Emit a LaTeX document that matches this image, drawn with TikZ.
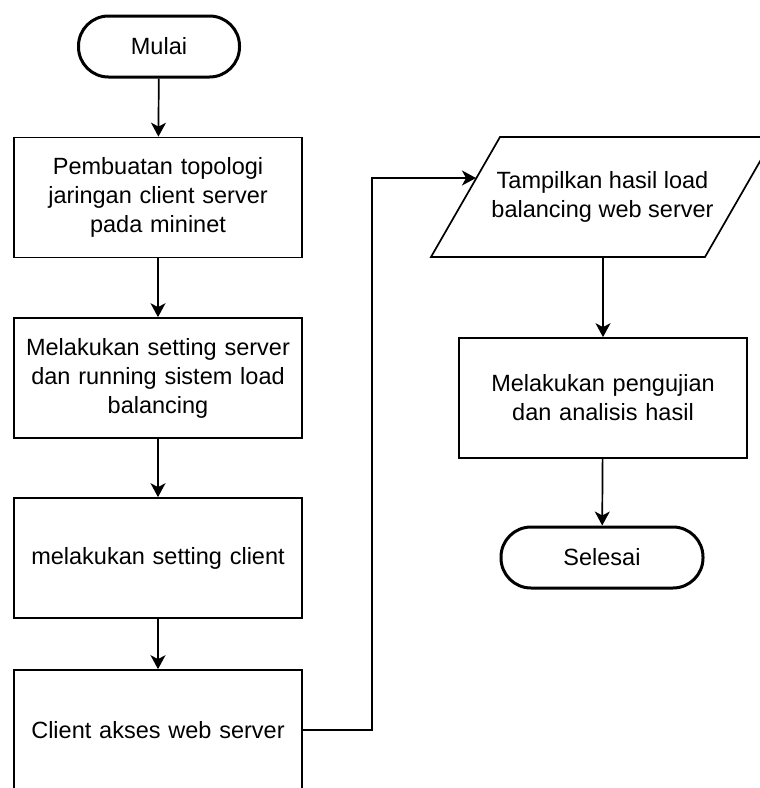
\documentclass[tikz,border=0pt]{standalone}
\usepackage{fontspec}
\setmainfont{Liberation Sans}
\usetikzlibrary{arrows.meta}
\begin{document}
\begin{tikzpicture}[x=1pt,y=-1pt,
  every node/.style={font=\fontsize{23.5}{29}\selectfont, align=center, inner sep=0pt},
  process/.style={draw, line width=1.7pt, minimum width=288pt, minimum height=120pt, text width=280pt},
  terminal/.style={draw, line width=3pt, rounded corners=30pt, minimum height=61pt},
  ioline/.style={line width=1.7pt, line join=miter},
  flow/.style={line width=1.7pt, -{Stealth[length=14pt,width=15pt,inset=4pt]}}]
  \useasboundingbox (0,0) rectangle (760,788);
  \clip (0,0) rectangle (760,788);

  % left column
  \node[terminal, minimum width=161pt] (mulai) at (159,46.5) {Mulai};
  \node[process] (p1) at (158,197.5) {Pembuatan topologi\\jaringan client server\\pada mininet};
  \node[process] (p2) at (158,378) {Melakukan setting server\\dan running sistem load\\balancing};
  \node[process] (p3) at (158,558) {melakukan setting client};
  \node[process] (p4) at (158,730) {Client akses web server};

  % output step: parallelogram with 60 degree sides
  \coordinate (outbl) at (431,257);
  \coordinate (outtl) at (500,137);
  \coordinate (outtr) at (774,137);
  \coordinate (outbr) at (705,257);
  \draw[ioline] (outbl) -- (outtl) -- (outtr) -- (outbr) -- cycle;
  \node (out) at (602.5,197) {Tampilkan hasil load\\balancing web server};
  \coordinate (outin) at (476,178);
  \coordinate (outbot) at (602,257);

  % right column
  \node[process] (p5) at (603,398) {Melakukan pengujian\\dan analisis hasil};
  \node[terminal, minimum width=202pt] (selesai) at (602,557.5) {Selesai};

  % connectors
  \draw[flow] (mulai) -- (p1);
  \draw[flow] (p1) -- (p2);
  \draw[flow] (p2) -- (p3);
  \draw[flow] (p3) -- (p4);
  \coordinate (bend) at (372,730);
  \draw[flow] (p4.east) -- (bend) |- (outin);
  \draw[flow] (outbot -| p5.north) -- (p5.north);
  \draw[flow] (p5) -- (selesai);
\end{tikzpicture}
\end{document}
